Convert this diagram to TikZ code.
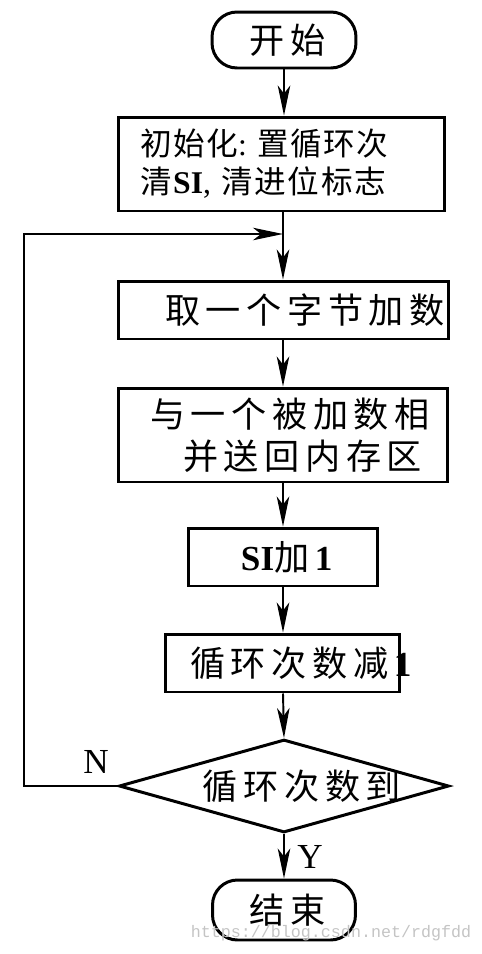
\documentclass[tikz,border=0pt]{standalone}
\usepackage{fontspec}
\setmainfont{Liberation Serif}
\setmonofont{Liberation Mono}
\newfontfamily\hanzi[LetterSpace=16]{Noto Sans CJK SC}
\newfontfamily\hanzijunto[LetterSpace=5]{Noto Sans CJK SC}
\usepackage{tikz}
\usetikzlibrary{calc,positioning,arrows.meta,shapes.geometric}
\definecolor{tinta}{HTML}{000000}
\definecolor{marcadagua}{HTML}{C4C4C4}
\newcommand{\hz}[1]{{\hanzi #1}}
\newcommand{\hzj}[1]{{\fontsize{18}{21.5}\hanzijunto #1}}

\begin{document}
\begin{tikzpicture}[x=0.02cm,y=-0.02cm,
    font=\fontsize{20}{23}\selectfont,
    caixa/.style={draw=tinta,line width=1.7pt,rectangle,inner ysep=0pt,align=left},
    terminal/.style={draw=tinta,line width=1.7pt,rounded corners=0.5cm,inner sep=0pt},
    decisao/.style={draw=tinta,line width=1.7pt,diamond,aspect=3.5,inner sep=0pt,
      minimum width=6.6cm,minimum height=1.86cm},
    seta/.style={tinta,line width=1.1pt,-{Stealth[length=0.6cm,width=0.25cm,inset=0.16cm]}},
    rotulo/.style={inner sep=0pt}]
      \useasboundingbox (0,0) rectangle (482,954);
      \node[terminal,minimum width=2.88cm,minimum height=1.12cm] (inicio) at (284,40) {\hspace{0.15cm}\hz{开始}};
      \node[caixa,minimum height=1.88cm,inner xsep=0.44cm,text width=5.66cm,font=\fontsize{18}{21.5}\selectfont] (prepara) at (281.5,164)
        {\hzj{初始化}:~\hzj{置循环次}\\\hzj{清}\textbf{SI},~\hzj{清进位标志}};
      \node[caixa,minimum height=1.16cm,inner xsep=0.94cm,text width=4.74cm] (pegar) at (283.5,310)
        {\hz{取一个字节加数}};
      \node[caixa,minimum height=1.88cm,inner xsep=0.64cm,text width=5.32cm] (somar) at (283,435)
        {\hz{与一个被加数相}\\[1pt]\hspace*{0.66cm}\hz{并送回内存区}};
      \node[caixa,minimum width=3.8cm,minimum height=1.16cm,align=center] (incsi) at (283,557)
        {\hspace{0.15cm}\textbf{SI}\hz{加}\textbf{1}};
      \node[caixa,minimum height=1.16cm,inner xsep=0.5cm,text width=3.7cm] (contador) at (282.5,663)
        {\hz{循环次数减}\textbf{1}};
      \node[decisao] (teste) at (284,786) {\makebox[0pt]{\hspace{0.72cm}\hz{循环次数到}}};
      \node[terminal,minimum width=2.86cm,minimum height=1.2cm] (fim) at (284,910) {\hspace{0.15cm}\hz{结束}};
      \coordinate (volta) at (283,234);
      \coordinate (canto) at (24,786);
      \begin{scope}[seta]
        \draw (inicio.south) -- (inicio.south |- prepara.north);
        \draw[-] (volta |- prepara.south) -- (volta);
        \draw (volta) -- (volta |- pegar.north);
        \draw (volta |- pegar.south) -- (volta |- somar.north);
        \draw (volta |- somar.south) -- (volta |- incsi.north);
        \draw (volta |- incsi.south) -- (volta |- contador.north);
        \draw (volta |- contador.south) -- (teste.north);
        \draw (teste.south) -- (fim.north);
        \draw (teste.west) -- (canto) |- (volta);
      \end{scope}
      \node[rotulo] (nao) at (96,762) {N};
      \node[rotulo] (sim) at (310,857) {Y};
      \node[rotulo,text=marcadagua,font=\ttfamily\fontsize{9.5}{10}\selectfont] (marca) at (331,933)
        {https://blog.csdn.net/rdgfdd};
    \end{tikzpicture}
\end{document}
